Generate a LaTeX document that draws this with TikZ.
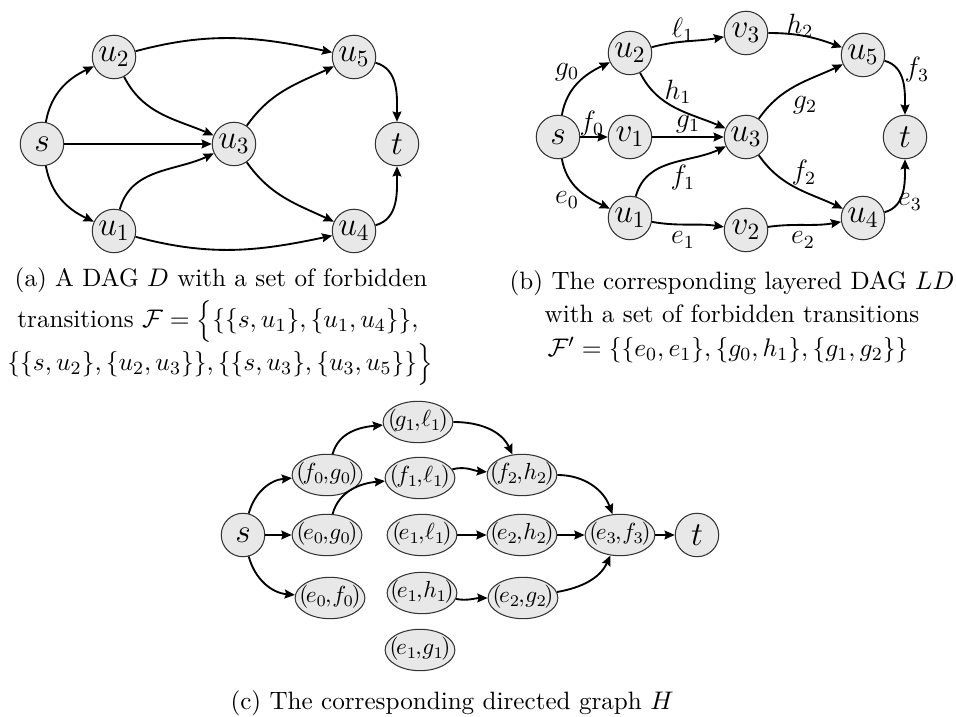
\documentclass[tikz,border=0pt]{standalone}
\usetikzlibrary{arrows.meta,shapes.geometric}
\newcommand\prl[2]{\makebox[0pt]{$(\mkern-2mu#1\mkern-1.5mu,\mkern-2.5mu#2\mkern-2mu)$}}
\newcommand\capfont{\fontsize{10.8}{13}\selectfont}
\begin{document}
\begin{tikzpicture}[x=0.43pt,y=-0.43pt,
  vtx/.style={circle, draw=black!80, fill=black!9, line width=0.45pt, minimum size=18.7pt, inner sep=0pt, font=\Large},
  pnode/.style={ellipse, draw=black!80, fill=black!9, line width=0.45pt, minimum width=30pt, minimum height=17.8pt, inner sep=0pt, text height=6.4pt, text depth=2.1pt, font=\fontsize{10.2}{12}\selectfont},
  arr/.style={-{Stealth[length=4.4pt,width=3.8pt,inset=0.6pt]}, line width=0.8pt},
  lbl/.style={font=\large, inner sep=0pt},
  captext/.style={anchor=base, inner sep=0pt, font=\capfont}]
\useasboundingbox (0,0) rectangle (956,717);
% ---------- (a) ----------
\node[vtx] (as)  at (42,144)  {$s$};
\node[vtx] (au2) at (114,57)  {$u_2$};
\node[vtx] (au5) at (354,57)  {$u_5$};
\node[vtx] (au3) at (234,144) {$u_3$};
\node[vtx] (at)  at (397,144) {$t$};
\node[vtx] (au1) at (114,231) {$u_1$};
\node[vtx] (au4) at (354,231) {$u_4$};
\draw[arr] (as) to[out=80,in=205] (au2);
\draw[arr] (as) to[out=-80,in=155] (au1);
\draw[arr] (as) -- (au3);
\draw[arr] (au2) to[out=15,in=168] (au5);
\draw[arr] (au2) to[out=-63,in=157] (au3);
\draw[arr] (au1) to[out=75,in=205] (au3);
\draw[arr] (au1) to[out=-15,in=192] (au4);
\draw[arr] (au3) to[out=55,in=205] (au5);
\draw[arr] (au3) to[out=-55,in=155] (au4);
\draw[arr] (au5) to[out=-15,in=90] (at);
\draw[arr] (au4) to[out=15,in=-90] (at);
\node[captext] (capa1) at (221,287) {(a) A DAG $D$ with a set of forbidden};
\node[captext] (capa2) at (218,328) {transitions $\mathcal{F}=\Big\{\{\{s,u_1\},\{u_1,u_4\}\},$};
\node[captext] (capa3) at (220,371) {$\{\{s,u_2\},\{u_2,u_3\}\},\{\{s,u_3\},\{u_3,u_5\}\}\Big\}$};
% ---------- (b) ----------
\node[vtx] (bs)  at (558,137) {$s$};
\node[vtx] (bu2) at (630,53)  {$u_2$};
\node[vtx] (bv3) at (746,33)  {$v_3$};
\node[vtx] (bu5) at (863,55)  {$u_5$};
\node[vtx] (bv1) at (630,137) {$v_1$};
\node[vtx] (bu3) at (746,137) {$u_3$};
\node[vtx] (bt)  at (905,137) {$t$};
\node[vtx] (bu1) at (630,218) {$u_1$};
\node[vtx] (bv2) at (746,230) {$v_2$};
\node[vtx] (bu4) at (863,218) {$u_4$};
\draw[arr] (bs) to[out=80,in=205] (bu2);
\draw[arr] (bs) -- (bv1);
\draw[arr] (bs) to[out=-80,in=155] (bu1);
\draw[arr] (bu2) to[out=15,in=190] (bv3);
\draw[arr] (bv3) to[out=0,in=160] (bu5);
\draw[arr] (bu2) to[out=-63,in=157] (bu3);
\draw[arr] (bv1) -- (bu3);
\draw[arr] (bu1) to[out=75,in=205] (bu3);
\draw[arr] (bu3) to[out=55,in=205] (bu5);
\draw[arr] (bu3) to[out=-55,in=155] (bu4);
\draw[arr] (bu1) to[out=-10,in=172] (bv2);
\draw[arr] (bv2) to[out=8,in=190] (bu4);
\draw[arr] (bu5) to[out=-15,in=90] (bt);
\draw[arr] (bu4) to[out=15,in=-90] (bt);
\node[lbl] (lg0) at (567,72)  {$g_0$};
\node[lbl] (lf0) at (592,124) {$f_0$};
\node[lbl] (le0) at (567,200) {$e_0$};
\node[lbl] (ll1) at (683,30)  {$\ell_1$};
\node[lbl] (lh2) at (800,26)  {$h_2$};
\node[lbl] (lh1) at (678,92)  {$h_1$};
\node[lbl] (lg1) at (688,124) {$g_1$};
\node[lbl] (lf1) at (683,178) {$f_1$};
\node[lbl] (lg2) at (805,105) {$g_2$};
\node[lbl] (lf2) at (804,173) {$f_2$};
\node[lbl] (le1) at (683,240) {$e_1$};
\node[lbl] (le2) at (803,240) {$e_2$};
\node[lbl] (lf3) at (917,70)  {$f_3$};
\node[lbl] (le3) at (910,202) {$e_3$};
\node[captext] (capb1) at (732,290) {(b) The corresponding layered DAG $LD$};
\node[captext] (capb2) at (732,323) {with a set of forbidden transitions};
\node[captext] (capb3) at (728,357) {$\mathcal{F}'=\big\{\{e_0,e_1\},\{g_0,h_1\},\{g_1,g_2\}\big\}$};
% ---------- (c) ----------
\node[vtx]   (cs)  at (243,535) {$s$};
\node[pnode] (fg0) at (327,475) {\prl{f_0}{g_0}};
\node[pnode] (eg0) at (327,535) {\prl{e_0}{g_0}};
\node[pnode] (ef0) at (330,598) {\prl{e_0}{f_0}};
\node[pnode] (gl1) at (418,422) {\prl{g_1}{\ell_1}};
\node[pnode] (fl1) at (420,478) {\prl{f_1}{\ell_1}};
\node[pnode] (el1) at (422,535) {\prl{e_1}{\ell_1}};
\node[pnode] (eh1) at (422,593) {\prl{e_1}{h_1}};
\node[pnode] (eg1) at (420,650) {\prl{e_1}{g_1}};
\node[pnode] (fh2) at (522,475) {\prl{f_2}{h_2}};
\node[pnode] (eh2) at (522,535) {\prl{e_2}{h_2}};
\node[pnode] (eg2) at (523,598) {\prl{e_2}{g_2}};
\node[pnode] (ef3) at (620,535) {\prl{e_3}{f_3}};
\node[vtx]   (ct)  at (697,535) {$t$};
\draw[arr] (cs) to[out=75,in=185] (fg0);
\draw[arr] (cs) -- (eg0);
\draw[arr] (cs) to[out=-75,in=175] (ef0);
\draw[arr] (fg0) to[out=75,in=185] (gl1);
\draw[arr] (eg0) to[out=75,in=185] (fl1);
\draw[arr] (gl1) to[out=0,in=115] (fh2);
\draw[arr] (fl1) to[out=15,in=175] (fh2);
\draw[arr] (fh2) to[out=0,in=110] (ef3);
\draw[arr] (el1) -- (eh2);
\draw[arr] (eh2) -- (ef3);
\draw[arr] (ef3) -- (ct);
\draw[arr] (eh1) to[out=-10,in=180] (eg2);
\draw[arr] (eg2) to[out=10,in=-115] (ef3);
\node[captext] (capc) at (452,710) {(c) The corresponding directed graph $H$};
\end{tikzpicture}
\end{document}
